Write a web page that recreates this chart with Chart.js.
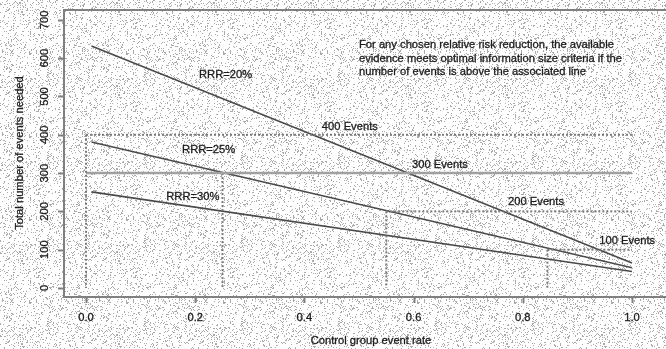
<!DOCTYPE html>
<html>
<head>
<meta charset="utf-8">
<script src="https://cdn.jsdelivr.net/npm/chart.js@4.4.1/dist/chart.umd.min.js"></script>
<style>
  html, body { margin: 0; padding: 0; background: #fff; }
  canvas { display: block; }
</style>
</head>
<body>
<canvas id="oisChart" width="666" height="349"></canvas>
<script>
// values
const seriesNames = ["RRR=20%", "RRR=25%", "RRR=30%"];
const eventRate = [0.01, 1.0];
const rrr20 = [632, 65];
const rrr25 = [381, 53];
const rrr30 = [251, 43];

const eventLevels = [400, 300, 200, 100];
const eventNames = ["400 Events", "300 Events", "200 Events", "100 Events"];
const levelStart = [0, 0, 0.55, 0.845];
const levelEnd = [1.0, 1.0, 1.0, 1.0];
const dropX = [0, 0.25, 0.55, 0.845];

const xTicks = [0, 0.2, 0.4, 0.6, 0.8, 1.0];
const xTickLabels = ["0.0", "0.2", "0.4", "0.6", "0.8", "1.0"];
const yTicks = [0, 100, 200, 300, 400, 500, 600, 700];

// where the in-plot labels sit (data coords)
const seriesLabelX = [0.207, 0.176, 0.147];
const seriesLabelY = [556, 360, 238];
const eventLabelX = [0.432, 0.597, 0.773, 0.94];
const eventLabelY = [420, 321, 225, 123];

const noteLines = [
  "For any chosen relative risk reduction, the available",
  "evidence meets optimal information size criteria if the",
  "number of events is above the associated line"
];

const FONT = "11.2px 'Liberation Sans', Arial, sans-serif";

function pts(xs, ys) {
  return xs.map((x, i) => ({ x: x, y: ys[i] }));
}

let datasets = [];

// reference lines first so the curves sit on top
eventLevels.forEach((lvl, i) => {
  let solid = lvl === 300;
  datasets.push({
    data: [{ x: levelStart[i], y: lvl }, { x: levelEnd[i], y: lvl }],
    borderColor: solid ? "#a0a0a0" : "#7a7a7a",
    borderWidth: solid ? 2.5 : 2,
    borderDash: solid ? [] : [2, 2],
  });
  datasets.push({
    data: [{ x: dropX[i], y: lvl }, { x: dropX[i], y: 0 }],
    borderColor: "#7a7a7a",
    borderWidth: 2,
    borderDash: [2, 2],
  });
});

[rrr20, rrr25, rrr30].forEach((vals) => {
  datasets.push({
    data: pts(eventRate, vals),
    borderColor: "#4a4a4a",
    borderWidth: 1.6,
  });
});

// stippled paper look (fixed integer hash, same every run)
function makeStipple(ctx) {
  let w = 97, h = 83;
  let tile = document.createElement("canvas");
  tile.width = w; tile.height = h;
  let t = tile.getContext("2d");
  t.fillStyle = "#ffffff";
  t.fillRect(0, 0, w, h);
  t.fillStyle = "#ababab";
  for (let i = 0; i < w; i++) {
    for (let j = 0; j < h; j++) {
      let k = Math.imul(i + 1, 0x27d4eb2d) ^ Math.imul(j + 7, 0x165667b1);
      k = Math.imul(k ^ (k >>> 15), 0x85ebca6b);
      k = Math.imul(k ^ (k >>> 13), 0xc2b2ae35);
      k = (k ^ (k >>> 16)) >>> 0;
      if (k % 100 < 13) t.fillRect(i, j, 1, 1);
    }
  }
  return ctx.createPattern(tile, "repeat");
}

// slightly heavy text, like the scanned original
function label(ctx, text, x, y) {
  ctx.fillText(text, x, y);
  ctx.strokeText(text, x, y);
}

const decorations = {
  id: "decorations",
  beforeDraw(chart) {
    let ctx = chart.ctx;
    ctx.save();
    ctx.fillStyle = makeStipple(ctx);
    ctx.fillRect(0, 0, chart.width, chart.height);
    ctx.restore();
  },
  afterDatasetsDraw(chart) {
    let ctx = chart.ctx;
    let xs = chart.scales.x, ys = chart.scales.y;
    let a = chart.chartArea;
    ctx.save();

    // box
    ctx.strokeStyle = "#808080";
    ctx.lineWidth = 2;
    ctx.strokeRect(a.left, a.top, a.right - a.left + 5, a.bottom - a.top);

    // tick marks
    xTicks.forEach((v) => {
      let px = Math.round(xs.getPixelForValue(v)) + 0.5;
      ctx.beginPath();
      ctx.moveTo(px, a.bottom);
      ctx.lineTo(px, a.bottom + 6);
      ctx.stroke();
    });
    yTicks.forEach((v) => {
      let py = Math.round(ys.getPixelForValue(v)) + 0.5;
      ctx.beginPath();
      ctx.moveTo(a.left - 6, py);
      ctx.lineTo(a.left, py);
      ctx.stroke();
    });

    ctx.font = FONT;
    ctx.fillStyle = "#1c1c1c";
    ctx.strokeStyle = "#1c1c1c";
    ctx.lineWidth = 0.3;
    ctx.textAlign = "center";
    ctx.textBaseline = "middle";

    xTicks.forEach((v, i) => {
      label(ctx, xTickLabels[i], xs.getPixelForValue(v), 318);
    });

    // y labels rotated like base R
    yTicks.forEach((v) => {
      ctx.save();
      ctx.translate(45, ys.getPixelForValue(v));
      ctx.rotate(-Math.PI / 2);
      label(ctx, String(v), 0, 0);
      ctx.restore();
    });

    // axis titles
    label(ctx, "Control group event rate", 371, 341);
    ctx.save();
    ctx.translate(20, 153);
    ctx.rotate(-Math.PI / 2);
    label(ctx, "Total number of events needed", 0, 0);
    ctx.restore();

    // labels inside the plot
    ctx.textAlign = "left";
    seriesNames.forEach((name, i) => {
      label(ctx, name, xs.getPixelForValue(seriesLabelX[i]), ys.getPixelForValue(seriesLabelY[i]));
    });
    eventNames.forEach((name, i) => {
      label(ctx, name, xs.getPixelForValue(eventLabelX[i]), ys.getPixelForValue(eventLabelY[i]));
    });

    noteLines.forEach((line, i) => {
      label(ctx, line, 359, 45 + i * 13.5);
    });

    ctx.restore();
  }
};

let ctx = document.getElementById("oisChart").getContext("2d");
let oisChart = new Chart(ctx, {
  type: "scatter",
  data: { datasets: datasets },
  options: {
    responsive: false,
    animation: false,
    showLine: true,
    layout: { padding: { left: 64, top: 10, right: 0, bottom: 52 } },
    elements: { point: { radius: 0 }, line: { tension: 0 } },
    plugins: { legend: { display: false }, tooltip: { enabled: false } },
    scales: {
      x: { type: "linear", display: false, min: -0.0403, max: 1.0623 },
      y: { type: "linear", display: false, min: -23.5, max: 725.8 }
    }
  },
  plugins: [decorations]
});
</script>
</body>
</html>
